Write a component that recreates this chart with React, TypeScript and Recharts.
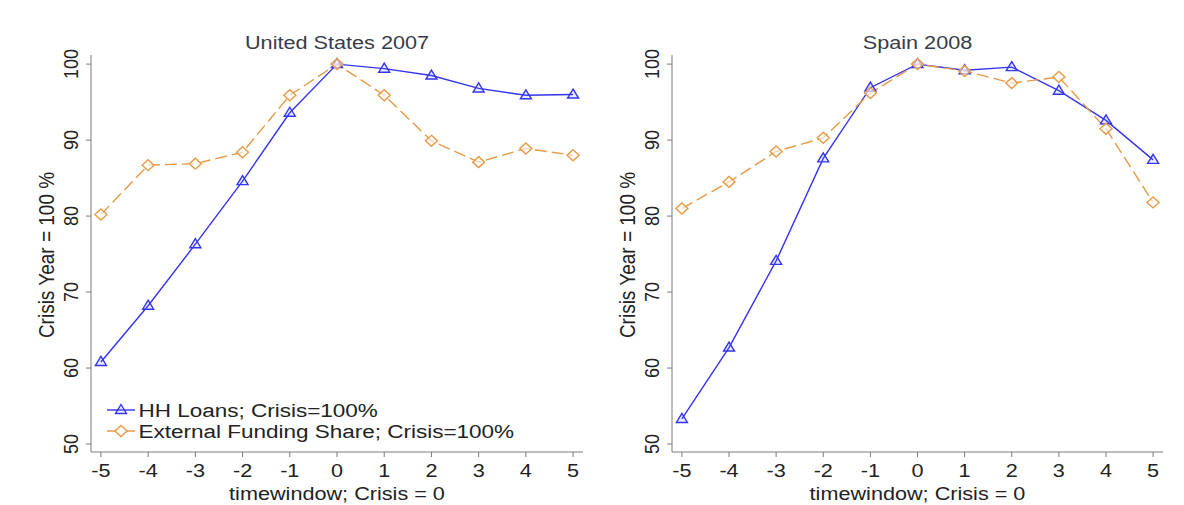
import React from 'react';
import { LineChart, Line, XAxis, YAxis } from 'recharts';

const timewindow = [-5, -4, -3, -2, -1, 0, 1, 2, 3, 4, 5];
const usHHLoans = [60.8, 68.2, 76.3, 84.6, 93.6, 100, 99.4, 98.5, 96.8, 95.9, 96.0];
const usExtFunding = [80.2, 86.7, 86.9, 88.4, 95.9, 100, 95.9, 89.9, 87.1, 88.9, 88.0];
const esHHLoans = [53.3, 62.7, 74.1, 87.6, 96.9, 100, 99.2, 99.6, 96.5, 92.6, 87.4];
const esExtFunding = [81.0, 84.5, 88.5, 90.3, 96.2, 100, 99.1, 97.5, 98.3, 91.5, 81.8];
const yTicks = [50, 60, 70, 80, 90, 100];
const xTicks = [-5, -4, -3, -2, -1, 0, 1, 2, 3, 4, 5];
const seriesNames = ['HH Loans; Crisis=100%', 'External Funding Share; Crisis=100%'];

const BLUE = '#3434f2';
const ORANGE = '#e79a45';
const AXIS = '#7a7a7a';
const TEXT = '#222222';
const TITLE = '#363c4a';
const FONT = '"Liberation Sans", Arial, Helvetica, sans-serif';
const SX = 1.17;

const build = (hh: number[], ef: number[]) =>
  timewindow.map((t, i) => ({ t, hh: hh[i], ef: ef[i] }));

const triPath = (cx: number, cy: number) =>
  `M${cx},${cy - 5.5} L${cx + 5.5},${cy + 3.5} L${cx - 5.5},${cy + 3.5} Z`;
const diaPath = (cx: number, cy: number) =>
  `M${cx},${cy - 5.5} L${cx + 6},${cy} L${cx},${cy + 5.5} L${cx - 6},${cy} Z`;

const TriDot = (props: any) => {
  const { cx, cy } = props;
  if (cx == null || cy == null) return null;
  return <path d={triPath(cx, cy)} fill="rgba(120,120,255,0.15)" stroke={BLUE} strokeWidth={1.4} />;
};
const DiaDot = (props: any) => {
  const { cx, cy } = props;
  if (cx == null || cy == null) return null;
  return <path d={diaPath(cx, cy)} fill="rgba(255,255,255,0.6)" stroke={ORANGE} strokeWidth={1.4} />;
};

const XTick = (props: any) => {
  const { x, y, payload } = props;
  return (
    <text
      transform={`translate(${x},${y + 18}) scale(${SX},1)`}
      textAnchor="middle"
      fontSize={18.5}
      fontFamily={FONT}
      fill={TEXT}
    >
      {payload.value}
    </text>
  );
};

const YTick = (props: any) => {
  const { x, y, payload } = props;
  return (
    <text
      transform={`translate(${x - 6},${y}) scale(${SX},1) rotate(-90)`}
      textAnchor="middle"
      fontSize={18}
      fontFamily={FONT}
      fill={TEXT}
    >
      {payload.value}
    </text>
  );
};

type PanelProps = {
  title: string;
  hh: number[];
  ef: number[];
  left: number;
  yAxisWidth: number;
  rightMargin: number;
  legend?: boolean;
};

const W = 592;
const H = 505;
const TOP = 55;
const AXIS_Y = 452;
const XAXIS_H = 50;

function Panel({ title, hh, ef, left, yAxisWidth, rightMargin, legend }: PanelProps) {
  const data = build(hh, ef);
  const plotLeft = yAxisWidth;
  const plotRight = W - rightMargin;
  const cx = (plotLeft + plotRight) / 2;
  return (
    <div style={{ position: 'absolute', left, top: 0, width: W, height: H }}>
      <LineChart
        width={W}
        height={H}
        data={data}
        margin={{ top: TOP, right: rightMargin, left: 0, bottom: H - AXIS_Y - XAXIS_H }}
      >
        <XAxis
          dataKey="t"
          type="number"
          domain={[-5.21, 5.21]}
          ticks={xTicks}
          allowDataOverflow
          interval={0}
          height={XAXIS_H}
          tickSize={5}
          stroke={AXIS}
          tickLine={{ stroke: AXIS }}
          tick={<XTick />}
        />
        <YAxis
          type="number"
          domain={[48.95, 101.2]}
          ticks={yTicks}
          allowDataOverflow
          interval={0}
          width={yAxisWidth}
          tickSize={5}
          stroke={AXIS}
          tickLine={{ stroke: AXIS }}
          tick={<YTick />}
        />
        <Line
          dataKey="hh"
          name={seriesNames[0]}
          stroke={BLUE}
          strokeWidth={1.4}
          dot={<TriDot />}
          activeDot={false}
          isAnimationActive={false}
        />
        <Line
          dataKey="ef"
          name={seriesNames[1]}
          stroke={ORANGE}
          strokeWidth={1.4}
          strokeDasharray="12 5"
          dot={<DiaDot />}
          activeDot={false}
          isAnimationActive={false}
        />
        <text
          transform={`translate(${cx},49) scale(${SX},1)`}
          textAnchor="middle"
          fontSize={18.5}
          fontFamily={FONT}
          fill={TITLE}
        >
          {title}
        </text>
        <text
          transform={`translate(${yAxisWidth - 37},255) scale(${SX},1) rotate(-90)`}
          textAnchor="middle"
          fontSize={19}
          fontFamily={FONT}
          fill={TEXT}
        >
          Crisis Year = 100 %
        </text>
        <text
          transform={`translate(${cx},500) scale(${SX},1)`}
          textAnchor="middle"
          fontSize={18.5}
          fontFamily={FONT}
          fill={TEXT}
        >
          timewindow; Crisis = 0
        </text>
        {legend && (
          <g>
            <line x1={107} y1={410} x2={135} y2={410} stroke={BLUE} strokeWidth={1.4} />
            <path d={triPath(121, 410)} fill="rgba(120,120,255,0.15)" stroke={BLUE} strokeWidth={1.4} />
            <text
              transform={`translate(138.5,416.5) scale(1.25,1)`}
              fontSize={18}
              fontFamily={FONT}
              fill={TEXT}
            >
              {seriesNames[0]}
            </text>
            <line x1={107} y1={431} x2={135} y2={431} stroke={ORANGE} strokeWidth={1.4} strokeDasharray="12 5" />
            <path d={diaPath(121, 431)} fill="#fff" stroke={ORANGE} strokeWidth={1.4} />
            <text
              transform={`translate(138.5,437.5) scale(1.25,1)`}
              fontSize={18}
              fontFamily={FONT}
              fill={TEXT}
            >
              {seriesNames[1]}
            </text>
          </g>
        )}
      </LineChart>
    </div>
  );
}

export default function App() {
  return (
    <div
      style={{
        position: 'absolute',
        left: 0,
        top: 0,
        width: 1184,
        height: 505,
        background: '#ffffff',
        overflow: 'hidden',
      }}
    >
      <Panel title="United States 2007" hh={usHHLoans} ef={usExtFunding} left={0} yAxisWidth={91} rightMargin={9} legend />
      <Panel title="Spain 2008" hh={esHHLoans} ef={esExtFunding} left={592} yAxisWidth={80} rightMargin={21} />
    </div>
  );
}
